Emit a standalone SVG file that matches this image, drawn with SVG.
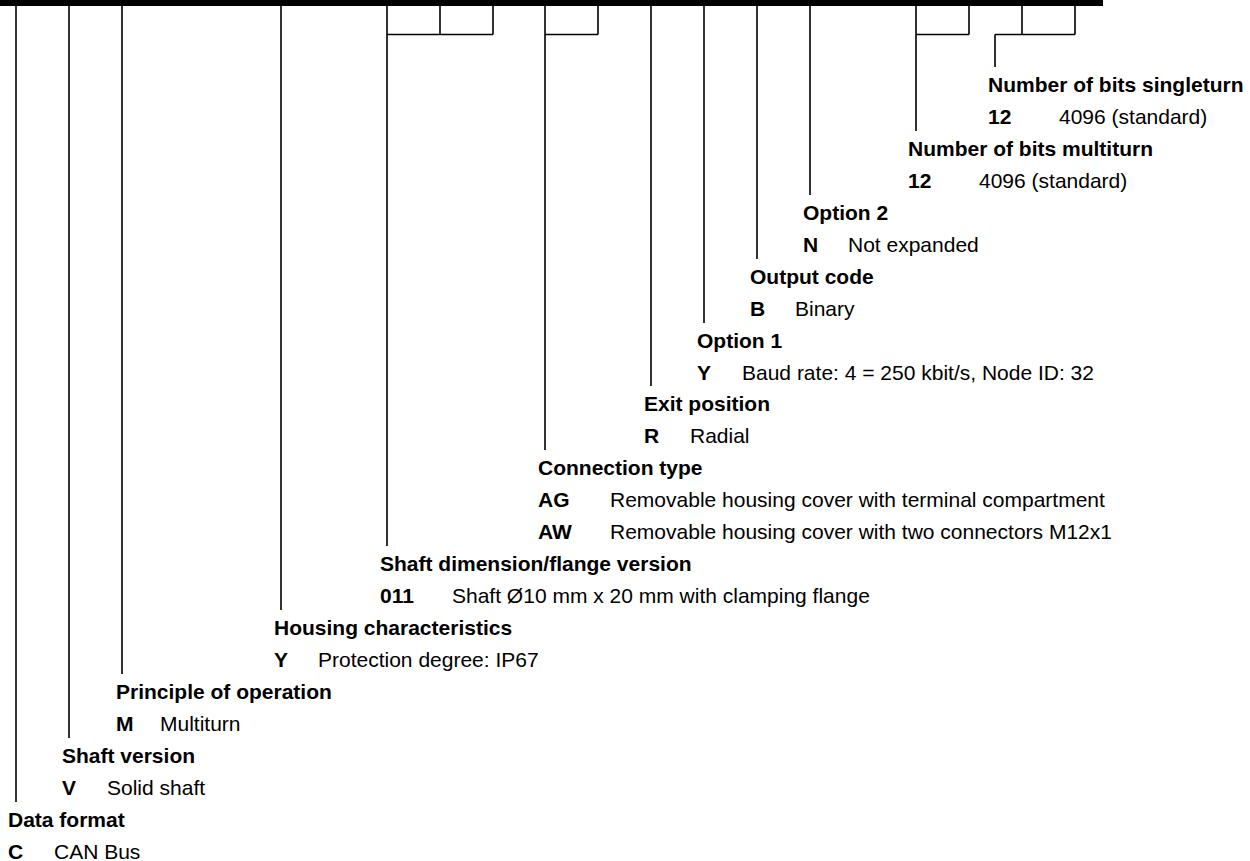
<svg xmlns="http://www.w3.org/2000/svg" width="1250" height="861" viewBox="0 0 1250 861">
<style>
text{font-family:"Liberation Sans",Arial,Helvetica,sans-serif;font-size:21px;fill:#000}
.b{font-weight:bold}
.c{stroke:#000;stroke-width:1.6;fill:none;stroke-linecap:butt}
</style>
<rect x="0" y="0" width="1103" height="6" fill="#000"/>
<g id="connectors" class="c">
<path d="M16,6V802"/>
<path d="M69,6V738"/>
<path d="M122,6V674"/>
<path d="M281,6V610"/>
<path d="M387,6V546M440,6V34.5M493,6V34.5M387,34.5H493"/>
<path d="M545,6V450M598,6V34.5M545,34.5H598"/>
<path d="M651,6V386"/>
<path d="M704,6V323"/>
<path d="M757,6V259"/>
<path d="M810,6V195"/>
<path d="M916,6V131M969,6V34.5M916,34.5H969"/>
<path d="M1022,6V34.5M1075,6V34.5M995,34.5H1075M995,34.5V67"/>
</g>
<g id="singleturn"><text class="b" x="988" y="92">Number of bits singleturn</text><text class="b" x="988" y="124">12</text><text x="1059" y="124">4096 (standard)</text></g>
<g id="multiturn"><text class="b" x="908" y="156">Number of bits multiturn</text><text class="b" x="908" y="188">12</text><text x="979" y="188">4096 (standard)</text></g>
<g id="option2"><text class="b" x="803" y="220">Option 2</text><text class="b" x="803" y="252">N</text><text x="848" y="252">Not expanded</text></g>
<g id="outputcode"><text class="b" x="750" y="284">Output code</text><text class="b" x="750" y="316">B</text><text x="795" y="316">Binary</text></g>
<g id="option1"><text class="b" x="697" y="348">Option 1</text><text class="b" x="697" y="380">Y</text><text x="742" y="380">Baud rate: 4 = 250 kbit/s, Node ID: 32</text></g>
<g id="exitposition"><text class="b" x="644" y="411">Exit position</text><text class="b" x="644" y="443">R</text><text x="690" y="443">Radial</text></g>
<g id="connectiontype"><text class="b" x="538" y="475">Connection type</text><text class="b" x="538" y="507">AG</text><text x="610" y="507">Removable housing cover with terminal compartment</text><text class="b" x="538" y="539">AW</text><text x="610" y="539">Removable housing cover with two connectors M12x1</text></g>
<g id="shaftdimension"><text class="b" x="380" y="571">Shaft dimension/flange version</text><text class="b" x="380" y="603">011</text><text x="452" y="603">Shaft Ø10 mm x 20 mm with clamping flange</text></g>
<g id="housing"><text class="b" x="274" y="635">Housing characteristics</text><text class="b" x="274" y="667">Y</text><text x="318" y="667">Protection degree: IP67</text></g>
<g id="principle"><text class="b" x="116" y="699">Principle of operation</text><text class="b" x="116" y="731">M</text><text x="160" y="731">Multiturn</text></g>
<g id="shaftversion"><text class="b" x="62" y="763">Shaft version</text><text class="b" x="62" y="795">V</text><text x="107" y="795">Solid shaft</text></g>
<g id="dataformat"><text class="b" x="8" y="827">Data format</text><text class="b" x="8" y="859">C</text><text x="54" y="859">CAN Bus</text></g>
</svg>
